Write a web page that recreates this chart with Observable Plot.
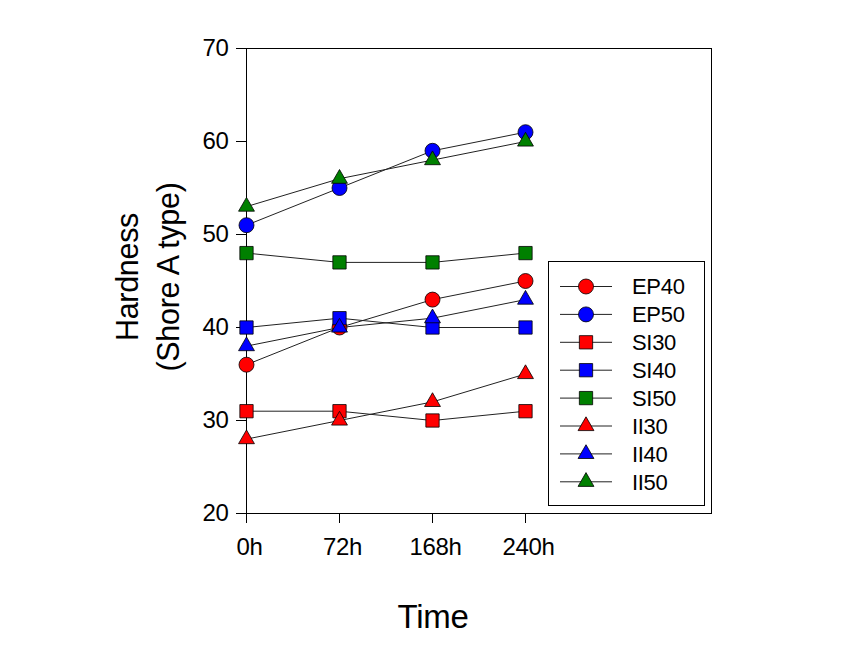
<!DOCTYPE html>
<html>
<head>
<meta charset="utf-8">
<script src="https://cdn.jsdelivr.net/npm/d3@7"></script>
<script src="https://cdn.jsdelivr.net/npm/@observablehq/plot@0.6"></script>
<style>
  html, body { margin: 0; padding: 0; background: #fff; }
  svg text { letter-spacing: -0.3px; }
</style>
</head>
<body>
<div id="chart"></div>
<script>
// ---- data ----
const times = ["0h", "72h", "168h", "240h"];
const seriesNames = ["EP40", "EP50", "SI30", "SI40", "SI50", "II30", "II40", "II50"];
const seriesColors = ["#ff0000", "#0000ff", "#ff0000", "#0000ff", "#008000", "#ff0000", "#0000ff", "#008000"];
const seriesShapes = ["circle", "circle", "square", "square", "square", "triangle", "triangle", "triangle"];
const EP40 = [36, 40, 43, 45];
const EP50 = [51, 55, 59, 61];
const SI30 = [31, 31, 30, 31];
const SI40 = [40, 41, 40, 40];
const SI50 = [48, 47, 47, 48];
const II30 = [28, 30, 32, 35];
const II40 = [38, 40, 41, 43];
const II50 = [53, 56, 58, 60];
const yTicks = [20, 30, 40, 50, 60, 70];

const seriesValues = [EP40, EP50, SI30, SI40, SI50, II30, II40, II50];
const shapeR = {circle: 7.5, square: 7.5, triangle: 5.9};

const marks = [];
seriesNames.forEach((name, s) => {
  const rows = seriesValues[s].map((v, i) => ({series: name, t: i, value: v}));
  marks.push(Plot.line(rows, {x: "t", y: "value", stroke: "#222", strokeWidth: 1}));
  marks.push(Plot.dot(rows, {
    x: "t", y: "value", symbol: seriesShapes[s], r: shapeR[seriesShapes[s]],
    fill: seriesColors[s], stroke: "#000", strokeWidth: 0.8
  }));
});

const font = "'Liberation Sans', Arial, sans-serif";

const plot = Plot.plot({
  width: 855,
  height: 645,
  marginLeft: 246,
  marginRight: 144,
  marginTop: 48,
  marginBottom: 132,
  style: {fontFamily: font, fontSize: "24px", color: "#000", background: "#fff"},
  x: {domain: [0, 5]},
  y: {domain: [20, 70]},
  marks: [
    Plot.frame({stroke: "#000", strokeWidth: 1}),
    Plot.axisY({ticks: yTicks, tickSize: 10, tickPadding: 8, label: null, fontSize: 24}),
    Plot.axisX({ticks: [0, 1, 2, 3], tickSize: 10, text: null, label: null}),
    Plot.axisX({ticks: [0, 1, 2, 3], tickFormat: i => times[i], tickSize: 0, tickPadding: 24, dx: 3, label: null, fontSize: 24}),
    ...marks,
    Plot.text(["Hardness\n(Shore A type)"], {frameAnchor: "left", textAnchor: "middle", rotate: -90, dx: -101, dy: -4, fontSize: 30.5, lineHeight: 1.33, fill: "#000"}),
    Plot.text(["Time"], {frameAnchor: "bottom", dx: -46, dy: 114, fontSize: 33, fill: "#000"})
  ]
});

// ---- legend ----
const svg = d3.select(plot);
const lg = svg.append("g").attr("font-family", font).attr("font-size", 22).attr("text-anchor", "start");
lg.append("rect").attr("x", 548.5).attr("y", 261.5).attr("width", 156).attr("height", 244)
  .attr("fill", "#fff").attr("stroke", "#000").attr("stroke-width", 1);
seriesNames.forEach((name, s) => {
  const cy = 286.5 + s * 27.9;
  lg.append("line").attr("x1", 560).attr("x2", 612).attr("y1", cy).attr("y2", cy)
    .attr("stroke", "#222").attr("stroke-width", 1);
  const r = shapeR[seriesShapes[s]];
  const sym = {circle: d3.symbolCircle, square: d3.symbolSquare, triangle: d3.symbolTriangle}[seriesShapes[s]];
  lg.append("path").attr("d", d3.symbol(sym, Math.PI * r * r)())
    .attr("transform", `translate(586,${cy})`)
    .attr("fill", seriesColors[s]).attr("stroke", "#000").attr("stroke-width", 0.8);
  lg.append("text").attr("x", 632).attr("y", cy).attr("dy", "0.36em").attr("fill", "#000")
    .attr("text-anchor", "start").text(name);
});

document.getElementById("chart").appendChild(plot);
</script>
</body>
</html>
